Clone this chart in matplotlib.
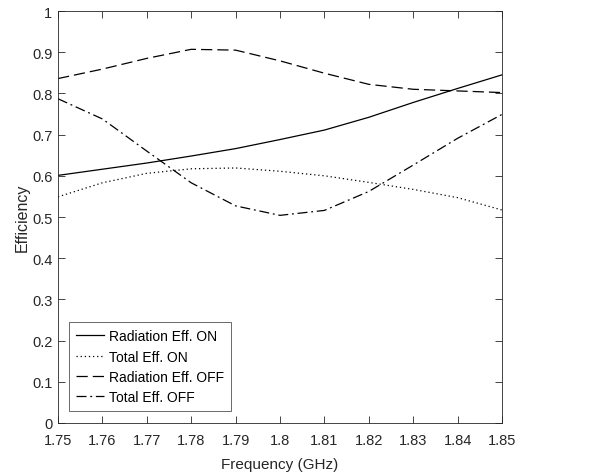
import matplotlib
matplotlib.use("Agg")
import matplotlib.pyplot as plt

plt.rcParams['font.family'] = ['Liberation Sans', 'DejaVu Sans']

freq = [1.75, 1.76, 1.77, 1.78, 1.79, 1.80, 1.81, 1.82, 1.83, 1.84, 1.85]
rad_on = [0.601, 0.616, 0.631, 0.648, 0.666, 0.688, 0.711, 0.742, 0.778, 0.812, 0.845]
tot_on = [0.549, 0.583, 0.606, 0.617, 0.619, 0.611, 0.600, 0.584, 0.567, 0.547, 0.517]
rad_off = [0.836, 0.859, 0.885, 0.907, 0.905, 0.879, 0.849, 0.822, 0.810, 0.806, 0.802]
tot_off = [0.787, 0.738, 0.660, 0.583, 0.527, 0.504, 0.516, 0.562, 0.626, 0.691, 0.749]

labels = ['Radiation Eff. ON', 'Total Eff. ON', 'Radiation Eff. OFF', 'Total Eff. OFF']
xticks = [1.75, 1.76, 1.77, 1.78, 1.79, 1.80, 1.81, 1.82, 1.83, 1.84, 1.85]
xticklabels = ['1.75', '1.76', '1.77', '1.78', '1.79', '1.8', '1.81', '1.82', '1.83', '1.84', '1.85']
yticks = [0, 0.1, 0.2, 0.3, 0.4, 0.5, 0.6, 0.7, 0.8, 0.9, 1]
yticklabels = ['0', '0.1', '0.2', '0.3', '0.4', '0.5', '0.6', '0.7', '0.8', '0.9', '1']

fig = plt.figure(figsize=(6.12, 4.77), dpi=100)
ax = fig.add_axes([58/612, 53/477, 444/612, 412/477])

lw = 0.9
ax.plot(freq, rad_on, color='black', linestyle='-', linewidth=lw, label=labels[0])
ax.plot(freq, tot_on, color='black', linestyle=(0, (1, 2.3)), linewidth=lw, label=labels[1])
ax.plot(freq, rad_off, color='black', linestyle=(0, (9, 4)), linewidth=lw, label=labels[2])
ax.plot(freq, tot_off, color='black', linestyle=(0, (8, 3, 1.5, 3)), linewidth=lw, label=labels[3])

ax.set_xlim(1.75, 1.85)
ax.set_ylim(0, 1)
ax.set_xticks(xticks)
ax.set_xticklabels(xticklabels)
ax.set_yticks(yticks)
ax.set_yticklabels(yticklabels)
ax.tick_params(direction='in', top=True, right=True, length=5, width=0.6,
               labelsize=10.5, colors='#262626', labelcolor='#262626')
ax.tick_params(axis='x', pad=7.5)
ax.tick_params(axis='y', pad=4)
for s in ax.spines.values():
    s.set_color('#262626')
    s.set_linewidth(0.6)
ax.set_xlabel('Frequency (GHz)', fontsize=11, color='#262626', labelpad=7)
ax.set_ylabel('Efficiency', fontsize=11.5, color='#262626', labelpad=2)

leg = ax.legend(loc='lower left', bbox_to_anchor=(11/444, 12/412), fontsize=10,
                frameon=True, fancybox=False, handlelength=2.05, handletextpad=0.35,
                borderpad=0.5, labelspacing=0.45, borderaxespad=0)
leg.get_frame().set_edgecolor('#262626')
leg.get_frame().set_linewidth(0.6)

fig.savefig('out.png', dpi=100)
